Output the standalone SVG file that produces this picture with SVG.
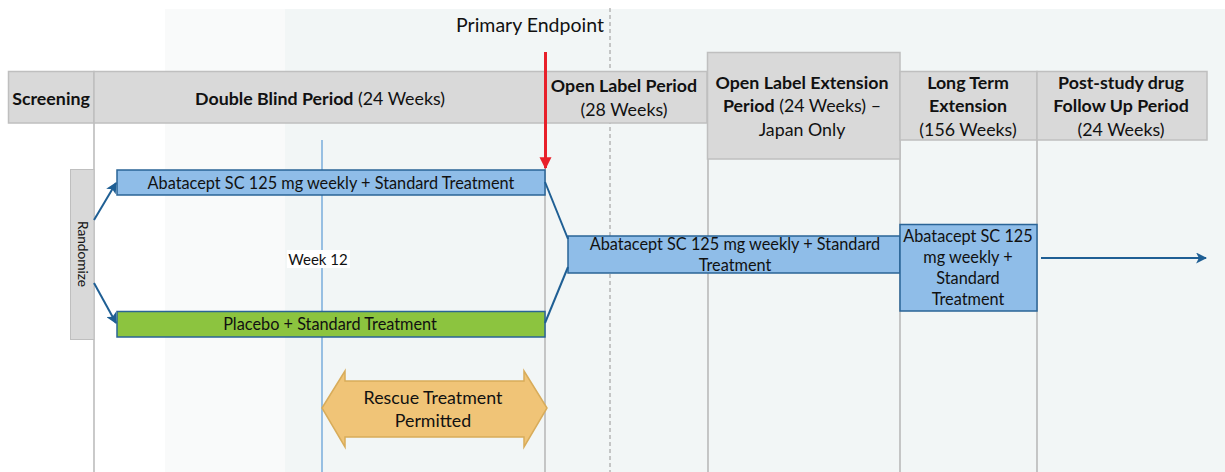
<svg xmlns="http://www.w3.org/2000/svg" width="1225" height="472" viewBox="0 0 1225 472">
<style>
.hdr{fill:#d9d9d9;stroke:#bfbfbf;stroke-width:1.5}
.t{font-family:Lato,"Open Sans",sans-serif;font-size:17.8px;fill:#111;text-anchor:middle}
.b{font-weight:bold}
.bt{font-family:Lato,"Open Sans",sans-serif;font-size:16.3px;fill:#111;text-anchor:middle}
.blue{fill:#8fbde8;stroke:#2a6496;stroke-width:1.5}
.green{fill:#8cc43f;stroke:#2a6496;stroke-width:1.5}
.vl{stroke:#a6a6a6;stroke-width:1.2}
.con{stroke:#1f5f94;stroke-width:2;fill:none}
</style>
<defs>
<marker id="ah" viewBox="0 0 10 10" refX="9" refY="5" markerWidth="5.5" markerHeight="5.5" orient="auto"><path d="M0,0 L10,5 L0,10 L2.5,5 z" fill="#1f5f94"/></marker>
<marker id="ahr" viewBox="0 0 10 10" refX="9" refY="5" markerWidth="4" markerHeight="4.5" orient="auto"><path d="M0,0 L10,5 L0,10 z" fill="#e8202a"/></marker>
</defs>
<rect width="1225" height="472" fill="#ffffff"/>
<rect x="165" y="9" width="1060" height="463" fill="#f9fafa"/>
<rect x="285" y="9" width="940" height="463" fill="#f2f6f6"/>

<g id="gridlines">
<line class="vl" x1="94" y1="123" x2="94" y2="472"/>
<line class="vl" x1="545" y1="123" x2="545" y2="472"/>
<line class="vl" x1="708" y1="159" x2="708" y2="472"/>
<line class="vl" x1="900" y1="140" x2="900" y2="472"/>
<line class="vl" x1="1037" y1="140" x2="1037" y2="472"/>
<line x1="610" y1="8" x2="610" y2="472" stroke="#a6a6a6" stroke-width="1.2" stroke-dasharray="4,3"/>
<line x1="322" y1="140" x2="322" y2="472" stroke="#5b9bd5" stroke-width="1.2"/>
</g>

<g id="screening">
<rect class="hdr" x="8.5" y="71.5" width="85.5" height="51.5"/>
<text class="t b" x="51" y="104.5">Screening</text>
</g>
<g id="double-blind">
<rect class="hdr" x="94" y="71.5" width="451" height="51.5"/>
<text class="t" x="320" y="104.5"><tspan class="b">Double Blind Period</tspan> (24 Weeks)</text>
</g>
<g id="open-label">
<rect class="hdr" x="545" y="71.5" width="162" height="51.5"/>
<text class="t" x="624" y="92"><tspan class="b">Open Label Period</tspan></text>
<text class="t" x="624" y="115.5">(28 Weeks)</text>
</g>
<g id="ole">
<rect class="hdr" x="707.5" y="52.5" width="192.5" height="106.5"/>
<text class="t b" x="802" y="88.5">Open Label Extension</text>
<text class="t" x="802" y="112"><tspan class="b">Period</tspan> (24 Weeks) –</text>
<text class="t" x="802" y="136">Japan Only</text>
</g>
<g id="lte">
<rect class="hdr" x="900" y="71.5" width="137" height="68.5"/>
<text class="t b" x="968" y="88.5">Long Term</text>
<text class="t b" x="968" y="112">Extension</text>
<text class="t" x="968" y="136">(156 Weeks)</text>
</g>
<g id="post-study">
<rect class="hdr" x="1037" y="71.5" width="170" height="68.5"/>
<text class="t b" x="1121" y="88.5">Post-study drug</text>
<text class="t b" x="1121" y="112">Follow Up Period</text>
<text class="t" x="1121" y="136">(24 Weeks)</text>
</g>

<g id="primary-endpoint">
<text class="t" x="530" y="32" style="font-size:19.5px">Primary Endpoint</text>
</g>

<g id="randomize">
<rect x="70.5" y="169.5" width="23.5" height="170" fill="#d9d9d9" stroke="#bfbfbf" stroke-width="1"/>
<text class="bt" transform="translate(77.5,254) rotate(90)" style="font-size:13.7px">Randomize</text>
</g>

<g id="abatacept-db">
<rect class="blue" x="117" y="170" width="428" height="25"/>
<text class="bt" x="331" y="188.5">Abatacept SC 125 mg weekly + Standard Treatment</text>
</g>
<g id="placebo">
<rect class="green" x="117" y="311.5" width="428" height="25.5"/>
<text class="bt" x="330" y="330">Placebo + Standard Treatment</text>
</g>
<g id="week12">
<rect x="287" y="250" width="63" height="18" fill="#ffffff"/>
<text class="bt" x="318" y="264.5" style="font-size:15px">Week 12</text>
</g>
<g id="rescue">
<path d="M322,408 L345,371 L345,381 L524,381 L524,371 L547,408 L524,447 L524,437 L345,437 L345,447 Z" fill="#f0c477" stroke="#d8ac5a" stroke-width="1.5"/>
<text class="bt" x="433" y="404" style="font-size:17.8px">Rescue Treatment</text>
<text class="bt" x="433" y="427" style="font-size:17.8px">Permitted</text>
</g>
<g id="abatacept-ol">
<rect class="blue" x="568" y="236" width="332" height="37"/>
<text class="bt" x="735" y="250">Abatacept SC 125 mg weekly + Standard</text>
<text class="bt" x="735" y="270.5">Treatment</text>
</g>
<g id="abatacept-lte">
<rect class="blue" x="900" y="224.5" width="137" height="86.5"/>
<text class="bt" x="968" y="241.5">Abatacept SC 125</text>
<text class="bt" x="968" y="262.5">mg weekly +</text>
<text class="bt" x="968" y="283.5">Standard</text>
<text class="bt" x="968" y="304.5">Treatment</text>
</g>

<g id="connectors">
<line class="con" x1="94" y1="220" x2="116" y2="183" marker-end="url(#ah)"/>
<line class="con" x1="94" y1="283" x2="116" y2="323" marker-end="url(#ah)"/>
<line class="con" x1="545" y1="182" x2="568" y2="239"/>
<line class="con" x1="545" y1="323" x2="568" y2="267"/>
<line class="con" x1="1041" y1="258" x2="1206" y2="258" marker-end="url(#ah)"/>
<line x1="545.5" y1="52" x2="545.5" y2="168" stroke="#e8202a" stroke-width="3" marker-end="url(#ahr)"/>
</g>
</svg>
